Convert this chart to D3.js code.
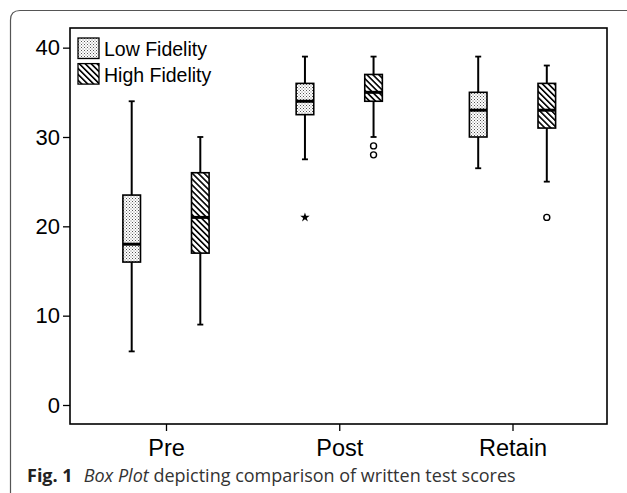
<!DOCTYPE html>
<html>
<head>
<meta charset="utf-8">
<script src="https://cdn.jsdelivr.net/npm/d3@7"></script>
<style>
  body { margin: 0; background: #fff; }
  svg { display: block; }
</style>
</head>
<body>
<svg id="chart" width="627" height="493"></svg>
<script>
// data
const phases = ['Pre', 'Post', 'Retain'];
const groups = ['Low Fidelity', 'High Fidelity'];
const yTicks = [0, 10, 20, 30, 40];

// [whiskerLow, q1, median, q3, whiskerHigh]
const lowFidelity = [
  [6, 16, 18, 23.5, 34],
  [27.5, 32.5, 34, 36, 39],
  [26.5, 30, 33, 35, 39]
];
const highFidelity = [
  [9, 17, 21, 26, 30],
  [30, 34, 35, 37, 39],
  [25, 31, 33, 36, 38]
];
// outliers: [phase, group, value, kind]
const outliers = [
  ['Post', 0, 21, 'star'],
  ['Post', 1, 29, 'circle'],
  ['Post', 1, 28, 'circle'],
  ['Retain', 1, 21, 'circle']
];

const svg = d3.select('#chart');
const plotL = 70, plotR = 607, plotT = 28, plotB = 424;

// outer figure frame (rounded top-left, open right/bottom)
svg.append('path')
  .attr('d', 'M10.5,496 L10.5,20 Q10.5,10.5 20,10.5 L627,10.5')
  .attr('fill', 'none').attr('stroke', '#555').attr('stroke-width', 1.2);

const y = d3.scaleLinear().domain([-2.127, 42.2]).range([plotB, plotT]);
const x = d3.scalePoint().domain(phases).range([166, 512.5]);
const offset = 34.3, boxW = 17.6;

const defs = svg.append('defs');
const dots = defs.append('pattern').attr('id', 'dots')
  .attr('patternUnits', 'userSpaceOnUse').attr('width', 3).attr('height', 3);
dots.append('rect').attr('width', 3).attr('height', 3).attr('fill', '#fff');
dots.append('rect').attr('x', 0).attr('y', 0).attr('width', 1).attr('height', 1).attr('fill', '#555');
dots.append('rect').attr('x', 1.5).attr('y', 1.5).attr('width', 1).attr('height', 1).attr('fill', '#777');

const hatch = defs.append('pattern').attr('id', 'hatch')
  .attr('patternUnits', 'userSpaceOnUse').attr('width', 4.2).attr('height', 4.2)
  .attr('patternTransform', 'rotate(-45)');
hatch.append('rect').attr('width', 4.2).attr('height', 4.2).attr('fill', '#fff');
hatch.append('rect').attr('x', 0).attr('y', 0).attr('width', 1.6).attr('height', 4.2).attr('fill', '#000');

const fills = ['url(#dots)', 'url(#hatch)'];

// plot frame
svg.append('rect')
  .attr('x', plotL).attr('y', plotT)
  .attr('width', plotR - plotL).attr('height', plotB - plotT)
  .attr('fill', 'none').attr('stroke', '#000').attr('stroke-width', 1.6);

// y axis
const yAxis = svg.append('g')
  .attr('transform', `translate(${plotL},0)`)
  .call(d3.axisLeft(y).tickValues(yTicks).tickSize(7).tickPadding(3).tickFormat(d3.format('d')));
yAxis.select('.domain').remove();
yAxis.selectAll('line').attr('stroke-width', 1.3);
yAxis.selectAll('text')
  .attr('font-family', 'Liberation Sans, Arial, sans-serif')
  .attr('font-size', 22).attr('fill', '#000');

// x axis
const xAxis = svg.append('g')
  .attr('transform', `translate(0,${plotB})`)
  .call(d3.axisBottom(x).tickSize(7).tickPadding(8));
xAxis.select('.domain').remove();
xAxis.selectAll('line').attr('stroke-width', 1.3);
xAxis.selectAll('text')
  .attr('font-family', 'Liberation Sans, Arial, sans-serif')
  .attr('font-size', 23.5).attr('fill', '#000');

// boxes
const series = [lowFidelity, highFidelity];
series.forEach((data, gi) => {
  const g = svg.append('g');
  data.forEach((s, i) => {
    const cx = x(phases[i]) + (gi === 0 ? -offset : offset);
    const [lo, q1, med, q3, hi] = s;
    // whiskers
    g.append('line').attr('x1', cx).attr('x2', cx).attr('y1', y(hi)).attr('y2', y(q3))
      .attr('stroke', '#000').attr('stroke-width', 2);
    g.append('line').attr('x1', cx).attr('x2', cx).attr('y1', y(q1)).attr('y2', y(lo))
      .attr('stroke', '#000').attr('stroke-width', 2);
    [lo, hi].forEach(v => {
      g.append('line').attr('x1', cx - 3).attr('x2', cx + 3).attr('y1', y(v)).attr('y2', y(v))
        .attr('stroke', '#000').attr('stroke-width', 1.8);
    });
    g.append('rect')
      .attr('x', cx - boxW / 2).attr('y', y(q3))
      .attr('width', boxW).attr('height', y(q1) - y(q3))
      .attr('fill', fills[gi]).attr('stroke', '#000').attr('stroke-width', 1.6);
    g.append('line').attr('x1', cx - boxW / 2).attr('x2', cx + boxW / 2)
      .attr('y1', y(med)).attr('y2', y(med))
      .attr('stroke', '#000').attr('stroke-width', 3);
  });
});

// outliers
const star = d3.symbol().type(d3.symbolStar).size(28);
outliers.forEach(([p, gi, v, kind]) => {
  const cx = x(p) + (gi === 0 ? -offset : offset);
  if (kind === 'star') {
    svg.append('path').attr('d', star())
      .attr('transform', `translate(${cx},${y(v)})`).attr('fill', '#000');
  } else {
    svg.append('circle').attr('cx', cx).attr('cy', y(v)).attr('r', 3)
      .attr('fill', '#fff').attr('stroke', '#000').attr('stroke-width', 1.4);
  }
});

// legend
const legend = svg.append('g').attr('transform', 'translate(78,38)');
groups.forEach((name, i) => {
  const row = legend.append('g').attr('transform', `translate(0,${i * 25.6})`);
  row.append('rect').attr('width', 21).attr('height', 20.5)
    .attr('fill', fills[i]).attr('stroke', '#000').attr('stroke-width', 1.3);
  row.append('text').attr('x', 26).attr('y', 18)
    .attr('font-family', 'Liberation Sans, Arial, sans-serif')
    .attr('font-size', 19.5).attr('fill', '#000').text(name);
});

// caption
const cap = svg.append('text').attr('x', 27).attr('y', 482)
  .attr('font-family', 'Open Sans, Noto Sans, sans-serif')
  .attr('font-size', 18).attr('fill', '#333');
cap.append('tspan').attr('font-weight', 'bold').attr('fill', '#222').text('Fig. 1');
cap.append('tspan').attr('dx', 11).attr('font-style', 'italic').text('Box Plot');
cap.append('tspan').text(' depicting comparison of written test scores');
</script>
</body>
</html>
